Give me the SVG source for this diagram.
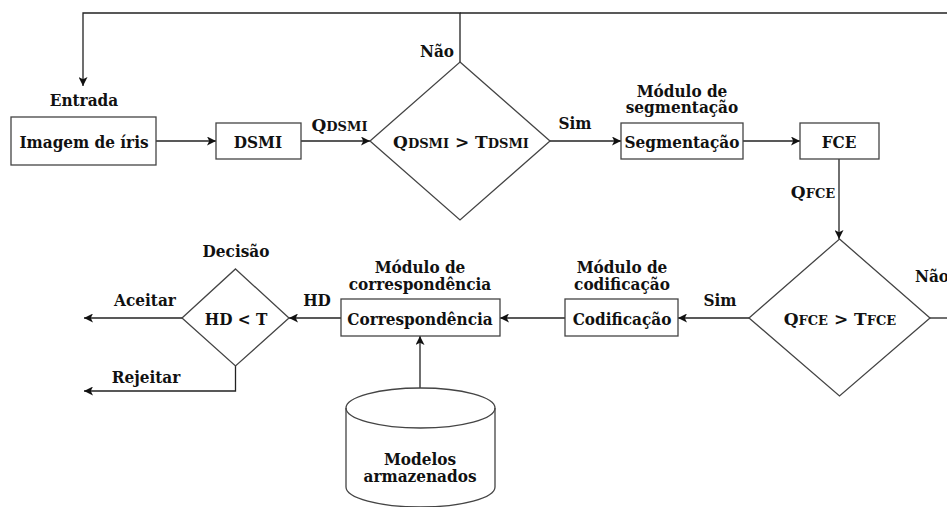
<svg xmlns="http://www.w3.org/2000/svg" width="947" height="507" viewBox="0 0 947 507">
<style>
text{font-family:"DejaVu Serif Condensed","DejaVu Serif","Liberation Serif",serif;font-stretch:condensed;font-weight:bold;font-size:17px;fill:#111;text-anchor:middle}
text.q{font-family:"DejaVu Serif","Liberation Serif",serif;font-stretch:normal}
.sm{font-size:13px}
.st{fill:#fff;stroke:#444;stroke-width:1.3}
.ln{fill:none;stroke:#222;stroke-width:1.3}
.ar{marker-end:url(#ah)}
</style>
<defs>
<marker id="ah" viewBox="0 0 10 10" refX="10" refY="5" markerWidth="9" markerHeight="9" markerUnits="userSpaceOnUse" orient="auto">
<path d="M0,0 L10,5 L0,10 L2.5,5 z" fill="#111"/>
</marker>
</defs>
<g id="connectors">
<path class="ln ar" d="M460,62 V13 H83 V86"/>
<path class="ln" d="M947,13 H460"/>
<path class="ln ar" d="M156,141 H216"/>
<path class="ln ar" d="M301,141 H370"/>
<path class="ln ar" d="M550,141 H621"/>
<path class="ln ar" d="M743,141 H800"/>
<path class="ln ar" d="M839,159 V239"/>
<path class="ln" d="M930,318 H947"/>
<path class="ln ar" d="M749,318 H678"/>
<path class="ln ar" d="M565,318 H500"/>
<path class="ln ar" d="M341,318 H289"/>
<path class="ln ar" d="M182,318 H84"/>
<path class="ln ar" d="M235.5,366 V391 H84"/>
<path class="ln ar" d="M420,388 V336"/>
<text x="437" y="57">Não</text>
<text class="q" x="339.5" y="131">Q<tspan class="sm">DSMI</tspan></text>
<text x="575" y="129">Sim</text>
<text class="q" x="813" y="198">Q<tspan class="sm">FCE</tspan></text>
<text x="932" y="282">Não</text>
<text x="720" y="306">Sim</text>
<text x="317" y="306">HD</text>
<text x="145" y="306">Aceitar</text>
<text x="146" y="383">Rejeitar</text>
</g>
<g id="entrada">
<text x="84" y="106">Entrada</text>
<rect class="st" x="11" y="117" width="145" height="48"/>
<text x="84" y="148">Imagem de íris</text>
</g>
<g id="dsmi">
<rect class="st" x="216" y="123" width="85" height="36"/>
<text x="258" y="148">DSMI</text>
</g>
<g id="dec1">
<path class="st" d="M460,62 L550,141 L460,220 L370,141 Z"/>
<text class="q" x="461" y="148">Q<tspan class="sm">DSMI</tspan> &gt; T<tspan class="sm">DSMI</tspan></text>
</g>
<g id="segmentacao">
<text x="682" y="97">Módulo de</text>
<text x="682" y="113">segmentação</text>
<rect class="st" x="621" y="123" width="122" height="36"/>
<text x="682" y="148">Segmentação</text>
</g>
<g id="fce">
<rect class="st" x="800" y="123" width="79" height="36"/>
<text x="839" y="148">FCE</text>
</g>
<g id="dec2">
<path class="st" d="M839.5,239 L930,318 L839.5,396 L749,318 Z"/>
<text class="q" x="840" y="325">Q<tspan class="sm">FCE</tspan> &gt; T<tspan class="sm">FCE</tspan></text>
</g>
<g id="codificacao">
<text x="622" y="273">Módulo de</text>
<text x="622" y="290">codificação</text>
<rect class="st" x="565" y="299" width="113" height="37"/>
<text x="622" y="325">Codificação</text>
</g>
<g id="correspondencia">
<text x="420" y="273">Módulo de</text>
<text x="420" y="290">correspondência</text>
<rect class="st" x="341" y="299" width="159" height="37"/>
<text x="420" y="325">Correspondência</text>
</g>
<g id="decisao">
<text x="236" y="257">Decisão</text>
<path class="st" d="M235.5,269 L289,318 L235.5,366 L182,318 Z"/>
<text x="236" y="325">HD &lt; T</text>
</g>
<g id="modelos">
<path class="st" d="M346,408 A74.5,20 0 0 1 495,408 V487 A74.5,20 0 0 1 346,487 Z"/>
<path class="ln" d="M346,408 A74.5,20 0 0 0 495,408" style="stroke:#444"/>
<text x="420" y="465">Modelos</text>
<text x="420" y="482">armazenados</text>
</g>
</svg>
